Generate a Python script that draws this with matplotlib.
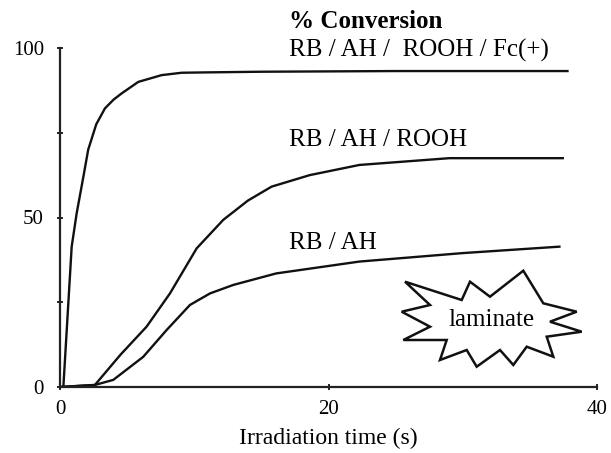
import numpy as np
import matplotlib
matplotlib.use('Agg')
import matplotlib.pyplot as plt
from matplotlib.patches import Polygon

matplotlib.rcParams['font.family'] = 'serif'
matplotlib.rcParams['font.serif'] = ['Liberation Serif', 'DejaVu Serif']

# Data
t_fc = [0, 0.25, 0.87, 1.24, 1.74, 2.1, 2.7, 3.35, 4.0, 4.59, 5.83, 7.57,
        9.06, 10.8, 15, 25, 37.8]
conv_fc = [0, 0, 41.4, 51.2, 62, 70, 77.5, 82.2, 84.8, 86.6, 90, 92,
           92.7, 92.8, 93, 93.2, 93.2]

t_rooh = [0, 2.6, 4.5, 6.45, 8.19, 10.18, 12.16, 14, 15.76, 18.6, 22.3,
          29, 37.45]
conv_rooh = [0, 0.6, 9.5, 17.8, 27.6, 40.9, 49.3, 55, 59.1, 62.5, 65.5,
             67.5, 67.5]

t_ah = [0, 2.6, 3.97, 6.2, 7.94, 9.68, 11.17, 12.9, 16.1, 22.3, 30, 37.2]
conv_ah = [0, 0.6, 2.1, 8.9, 16.8, 24.2, 27.6, 30.1, 33.5, 37, 39.5, 41.4]

labels = ['RB / AH /  ROOH / Fc(+)', 'RB / AH / ROOH', 'RB / AH']
label_y = [99.3, 72.9, 42.5]

fig = plt.figure(figsize=(6.11, 4.53), dpi=100)
ax = fig.add_axes([60 / 611, 1 - 387 / 453, 537 / 611, 339 / 453])

for t, c in [(t_fc, conv_fc), (t_rooh, conv_rooh), (t_ah, conv_ah)]:
    ax.plot(t, c, color='#111111', lw=1.7, solid_joinstyle='round')

ax.set_xlim(0, 40)
ax.set_ylim(0, 100)
ax.spines['top'].set_visible(False)
ax.spines['right'].set_visible(False)
ax.spines['left'].set_linewidth(1.6)
ax.spines['bottom'].set_linewidth(1.6)
ax.spines['left'].set_color('#222222')
ax.spines['bottom'].set_color('#222222')

ax.set_xticks([0, 20, 40])
ax.set_yticks([0, 25, 50, 75, 100])
ax.set_yticklabels(['0', '', '50', '', '100'])
ax.tick_params(direction='inout', length=5, width=1.4, labelsize=15,
               color='#222222')
ax.tick_params(axis='x', pad=7)
ax.tick_params(axis='y', pad=9)

ax.set_xlabel('Irradiation time (s)', fontsize=17, labelpad=6)

# Header and curve labels
ax.text(17.05, 107.7, '% Conversion', fontsize=18, weight='bold',
        va='center', ha='left', clip_on=False)
for s, y in zip(labels, label_y):
    ax.text(17.05, y, s, fontsize=18, va='center', ha='left', clip_on=False)

# "laminate" burst (pixel outline of the star)
star_px = [(405, 281.7), (461.7, 300), (470, 281.7), (490, 296.7),
           (523.3, 270.7), (543.3, 303.3), (576.7, 311.7), (550, 321.7),
           (581.7, 331.7), (546.7, 336.7), (553.3, 356.7), (526.7, 346.7),
           (513.3, 365), (500, 350), (476.7, 366.7), (466.7, 350),
           (440, 360), (446.7, 340), (403.3, 340), (430, 326.7),
           (401.7, 311.7), (430, 305)]
star = np.array([(x / 611, 1 - y / 453) for x, y in star_px])
fig.patches.append(Polygon(star, closed=True, fill=True, facecolor='white',
                           edgecolor='#111111', lw=1.8,
                           transform=fig.transFigure, joinstyle='miter'))
fig.text(492 / 611, 1 - 320 / 453, 'laminate', fontsize=18,
         ha='center', va='center')

fig.savefig('out.png', dpi=100)
